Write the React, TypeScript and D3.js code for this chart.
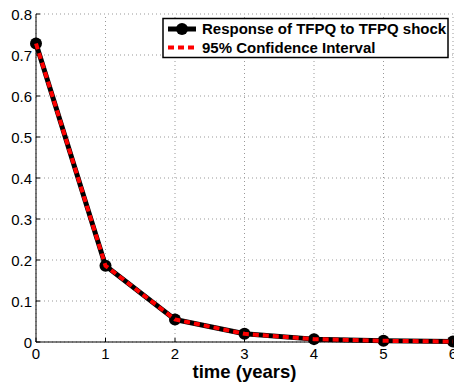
import React from "react";
import * as d3 from "d3";

const years = [0, 1, 2, 3, 4, 5, 6];
const response = [0.728, 0.186, 0.055, 0.02, 0.007, 0.003, 0.001];
const ciUpper = [0.728, 0.186, 0.055, 0.02, 0.007, 0.003, 0.001];
const xTicks = [0, 1, 2, 3, 4, 5, 6];
const yTicks = [0, 0.1, 0.2, 0.3, 0.4, 0.5, 0.6, 0.7, 0.8];
const legendLabels = ["Response of TFPQ to TFPQ shock", "95% Confidence Interval"];

export default function App() {
  const W = 454, H = 384;
  const x = d3.scaleLinear().domain([0, 6]).range([36, 453]);
  const y = d3.scaleLinear().domain([0, 0.8]).range([342, 14]);
  const line = d3.line<number>().x((_, i) => x(years[i])).y((d) => y(d));
  const font = "Liberation Sans, Arial, Helvetica, sans-serif";
  return (
    <svg width={W} height={H} style={{ position: "absolute", left: 0, top: 0, background: "#fff" }} fontFamily={font}>
      <rect width={W} height={H} fill="#fff" />
      {xTicks.map((t) => (
        <line key={"gx" + t} x1={x(t)} x2={x(t)} y1={y(0)} y2={y(0.8)} stroke="#999" strokeWidth={1} strokeDasharray="1,3" />
      ))}
      {yTicks.map((t) => (
        <line key={"gy" + t} x1={x(0)} x2={x(6)} y1={y(t)} y2={y(t)} stroke="#999" strokeWidth={1} strokeDasharray="1,3" />
      ))}
      <line x1={x(0)} x2={x(0)} y1={y(0)} y2={y(0.8)} stroke="#000" strokeWidth={1} />
      <line x1={x(0)} x2={x(6)} y1={y(0)} y2={y(0)} stroke="#000" strokeWidth={1} />
      {xTicks.map((t) => (
        <g key={"tx" + t}>
          <line x1={x(t)} x2={x(t)} y1={y(0)} y2={y(0) - 4} stroke="#000" />
          <text x={x(t)} y={y(0) + 17} textAnchor="middle" fontSize={15} fill="#000">{t}</text>
        </g>
      ))}
      {yTicks.map((t) => (
        <g key={"ty" + t}>
          <line x1={x(0)} x2={x(0) + 4} y1={y(t)} y2={y(t)} stroke="#000" />
          <text x={x(0) - 4} y={y(t) + 5.5} textAnchor="end" fontSize={15} fill="#000">{t === 0 ? "0" : d3.format(".1f")(t)}</text>
        </g>
      ))}
      <path d={line(response) || ""} fill="none" stroke="#000" strokeWidth={5} strokeLinejoin="round" />
      {response.map((v, i) => (
        <circle key={"m" + i} cx={x(years[i])} cy={y(v)} r={6} fill="#000" />
      ))}
      <path d={line(ciUpper) || ""} fill="none" stroke="#f00" strokeWidth={4} strokeDasharray="6,4" />
      <text x={(x(0) + x(6)) / 2} y={378} textAnchor="middle" fontSize={18.5} fontWeight="bold" fill="#000">time (years)</text>
      <g>
        <rect x={163} y={18.5} width={285} height={39} fill="#fff" stroke="#000" strokeWidth={1.5} />
        <line x1={168} x2={196} y1={29} y2={29} stroke="#000" strokeWidth={5} />
        <circle cx={182} cy={29} r={6} fill="#000" />
        <line x1={168} x2={196} y1={47.5} y2={47.5} stroke="#f00" strokeWidth={4} strokeDasharray="6,4" />
        <text x={202} y={34} fontSize={15} fontWeight="bold" fill="#000">{legendLabels[0]}</text>
        <text x={202} y={53} fontSize={15} fontWeight="bold" fill="#000">{legendLabels[1]}</text>
      </g>
    </svg>
  );
}
